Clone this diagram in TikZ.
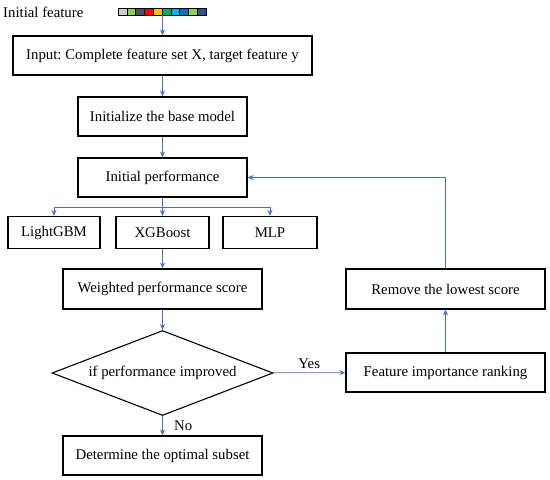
\documentclass[tikz,border=0pt]{standalone}
\usepackage{fontspec}
\setmainfont{Liberation Serif}
\usetikzlibrary{shapes.geometric,arrows.meta}
\frenchspacing
\definecolor{flowblue}{HTML}{4472C4}
\definecolor{cgray}{HTML}{D0CECE}
\definecolor{clime}{HTML}{92D050}
\definecolor{cslate}{HTML}{44546A}
\definecolor{cred}{HTML}{FF0000}
\definecolor{cgold}{HTML}{FFC000}
\definecolor{cgreen}{HTML}{00B050}
\definecolor{ccyan}{HTML}{00B0F0}
\definecolor{cblue}{HTML}{0070C0}
\definecolor{cnavy}{HTML}{2F5597}
\begin{document}
\begin{tikzpicture}[x=1pt,y=-1pt,
  txt/.style={font=\fontsize{14.8}{18}\selectfont},
  box/.style={txt,draw,line width=1.1pt,minimum height=39pt,inner sep=2pt},
  flow/.style={draw=flowblue,line width=0.8pt,-{Stealth[length=6pt,width=5pt]}},
  cell/.style={draw,line width=0.6pt,minimum width=8.8pt,minimum height=7pt,inner sep=0pt}]
\useasboundingbox (0,0) rectangle (550,480);

\node[txt,anchor=west,inner sep=0pt] (title) at (3,12) {Initial feature};
\foreach \c [count=\i] in {cgray,clime,cslate,cred,cgold,cgreen,ccyan,cblue,clime,cnavy}
  \node[cell,fill=\c] (c\i) at ({113.6+8.8*\i},11.5) {};
\coordinate (stripbot) at (162.5,15);

\node[box,minimum width=299pt] (input) at (162.5,55.5) {Input: Complete feature set X, target feature y};
\node[box,minimum width=169pt] (init) at (162.5,116.5) {Initialize the base model};
\node[box,minimum width=169pt] (perf) at (162.5,177.5) {Initial performance};
\node[box,minimum width=92pt,minimum height=32pt] (lgbm) at (54,232.5) {LightGBM};
\node[box,minimum width=93pt,minimum height=32pt] (xgb) at (162.5,232.5) {XGBoost};
\node[box,minimum width=94pt,minimum height=32pt] (mlp) at (270,232.5) {MLP};
\node[box,minimum width=199pt,minimum height=40pt] (score) at (162.5,289) {Weighted performance score};
\node[txt,draw,diamond,aspect=2.6,line width=1.1pt,minimum width=221pt,minimum height=85pt,inner sep=0pt] (check) at (162.5,373) {if performance improved};
\node[box,minimum width=199pt] (best) at (162.5,455.5) {Determine the optimal subset};
\node[box,minimum width=199pt] (rank) at (445.5,372.5) {Feature importance ranking};
\node[box,minimum width=199pt,minimum height=40pt] (remove) at (445.5,289) {Remove the lowest score};

\coordinate (split) at (162.5,207);
\draw[flow] (stripbot) -- (input);
\draw[flow] (input) -- (init);
\draw[flow] (init) -- (perf);
\draw[flow] (perf) -- (xgb);
\draw[draw=flowblue,line width=0.8pt] (lgbm.north |- split) -- (mlp.north |- split);
\draw[flow] (lgbm.north |- split) -- (lgbm);
\draw[flow] (mlp.north |- split) -- (mlp);
\draw[flow] (xgb) -- (score);
\draw[flow] (score) -- (check);
\draw[flow] (check) -- node[txt,above]{Yes} (rank);
\draw[flow] (check) -- node[txt,right=8pt]{No} (best);
\draw[flow] (rank) -- (remove);
\draw[flow] (remove.north) -- (remove.north |- perf.east) -- (perf.east);

\end{tikzpicture}
\end{document}
